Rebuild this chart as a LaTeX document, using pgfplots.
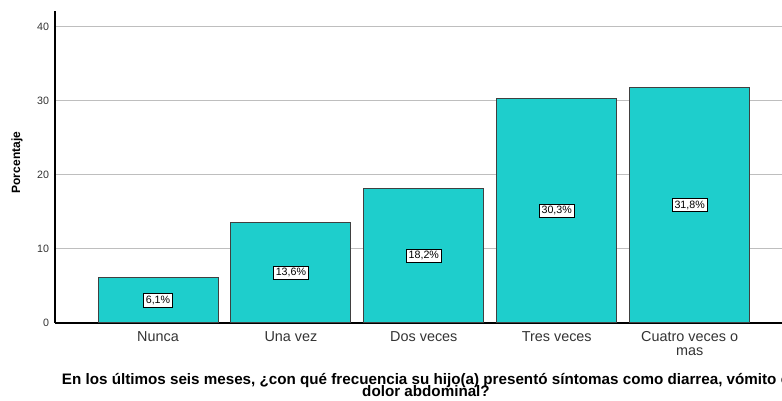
\documentclass[border=0pt]{standalone}
\usepackage{pgfplots}
\usepackage{pgfplotstable}
\pgfplotsset{compat=1.18}
\usepackage{fontspec}
\setmainfont{Liberation Sans}
\definecolor{barteal}{RGB}{30,206,204}
\definecolor{gridgray}{RGB}{190,190,190}
\definecolor{txtgray}{RGB}{51,51,51}

\pgfplotstableread{
x v lab
0 6.1 6,1\%
1 13.6 13,6\%
2 18.2 18,2\%
3 30.3 30,3\%
4 31.8 31,8\%
}\data

\begin{document}
\begin{tikzpicture}
\useasboundingbox (0,0) rectangle (586.5pt,300pt);
\clip (0,0) rectangle (586.5pt,300pt);
\begin{axis}[
  at={(41.25pt,57.75pt)}, anchor=south west,
  scale only axis, width=552.75pt, height=234pt,
  xmin=-0.775, xmax=4.77, ymin=0, ymax=42.09,
  axis x line*=bottom, axis y line*=left,
  axis line style={-, black, line width=0.8pt},
  every outer x axis line/.append style={-},
  every outer y axis line/.append style={-},
  /pgf/number format/assume math mode=true,
  ytick={0,10,20,30,40},
  xtick={0,1,2,3,4},
  xticklabels={Nunca, Una vez, Dos veces, Tres veces, {Cuatro veces o\\mas}},
  major tick length=0pt,
  ymajorgrids, grid style={gridgray, line width=0.75pt},
  yticklabel style={font=\fontsize{8}{9}\selectfont, text=txtgray, xshift=-1pt},
  xticklabel style={font=\fontsize{10.8}{10.5}\selectfont, text=txtgray, align=center, yshift=-3pt},
]
\addplot[ybar, bar width=90pt, fill=barteal, draw=black!75, line width=0.75pt]
  table[x=x, y=v] {\data};
\addplot[draw=none, mark=none, nodes near coords, point meta=explicit symbolic,
  every node near coord/.append style={anchor=center, fill=white, draw=black,
    line width=0.6pt, inner sep=1.6pt, font=\fontsize{8}{8}\selectfont, text=black}]
  table[x=x, y expr=\thisrow{v}/2, meta=lab] {\data};
\end{axis}
\node[rotate=90, font=\bfseries\fontsize{9}{10}\selectfont] at (12.75pt,178pt) {Porcentaje};
\node[anchor=base, font=\bfseries\fontsize{11.4}{9}\selectfont, inner sep=0pt] at (319.5pt,11.6pt)
  {En los últimos seis meses, ¿con qué frecuencia su hijo(a) presentó síntomas como diarrea, vómito o};
\node[anchor=base, font=\bfseries\fontsize{11.4}{9}\selectfont, inner sep=0pt] at (319.5pt,2.4pt)
  {dolor abdominal?};
\end{tikzpicture}
\end{document}
